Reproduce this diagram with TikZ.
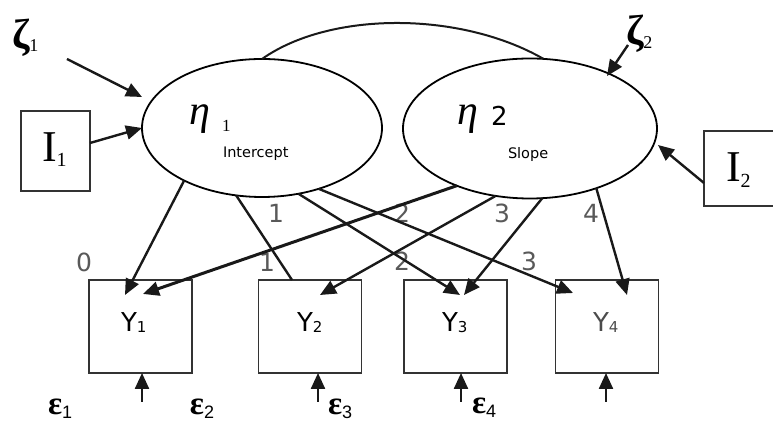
\documentclass[tikz,border=0pt]{standalone}
\usepackage{fontspec}
\setmainfont{Liberation Serif}
\newfontfamily\dvs{DejaVu Sans}
\newfontfamily\lser{Liberation Serif}
\newfontfamily\lsans{Liberation Sans}
\usetikzlibrary{shapes.geometric,arrows.meta}
\tikzset{
  lat/.style={ellipse, draw=black, line width=0.9pt, inner sep=0pt, outer sep=0pt},
  obs/.style={rectangle, draw=black!80, line width=0.8pt, inner sep=0pt, outer sep=0pt,
              minimum width=51.5pt, minimum height=46.5pt},
  ibox/.style={rectangle, draw=black!80, line width=0.8pt, inner sep=0pt, outer sep=0pt},
  conn/.style={draw=black!90, line width=1.2pt, -{Triangle[length=8pt,width=7pt]}},
  lineonly/.style={draw=black!90, line width=1.2pt},
  lbl/.style={inner sep=0pt, outer sep=0pt, anchor=base west},
  num/.style={lbl, font=\dvs\fontsize{12.5}{12.5}\selectfont, text=black!65},
  ylab/.style={lbl, font=\dvs\fontsize{13}{13}\selectfont},
  elab/.style={lbl, font=\lser\bfseries\fontsize{16.5}{16.5}\selectfont},
}
\newcommand\ysub[1]{\raisebox{-0.5pt}{\fontsize{7.5}{7.5}\selectfont #1}}
\newcommand\esub[1]{\raisebox{-2pt}{\lsans\mdseries\fontsize{9}{9}\selectfont #1}}
\begin{document}
\begin{tikzpicture}[x=0.5pt,y=-0.5pt]
\useasboundingbox (0,0) rectangle (773,421);
% latent ellipses
\node[lat, minimum width=120pt, minimum height=69pt] (e1) at (262,128) {};
\node[lat, minimum width=127pt, minimum height=70pt] (e2) at (530,128.5) {};
% covariance arc
\draw[lineonly, line width=1pt] (e1.north) .. controls (330,11) and (460,11) .. (e2.79);
% observed boxes
\node[obs] (y1) at (140.5,326.5) {};
\node[obs] (y2) at (310,326.5) {};
\node[obs] (y3) at (455.5,326.5) {};
\node[obs] (y4) at (607,326.5) {};
% I boxes
\node[ibox, minimum width=34.5pt, minimum height=40pt] (i1) at (55.5,151) {};
\node[ibox, minimum width=37pt, minimum height=37.5pt] (i2) at (741,168.5) {};
% labels
\node[lbl] (z1) at (12,49) {\lser\bfseries\fontsize{21}{21}\selectfont ζ\raisebox{-1.5pt}{\mdseries\fontsize{9}{9}\selectfont 1}};
\node[lbl] (z2) at (626,45) {\lser\bfseries\fontsize{21}{21}\selectfont ζ\raisebox{-1.75pt}{\mdseries\fontsize{9}{9}\selectfont 2}};
\node[lbl] (i1t) at (42,162) {\lser\fontsize{22}{22}\selectfont I\raisebox{-2.5pt}{\fontsize{10}{10}\selectfont 1}};
\node[lbl] (i2t) at (726,182) {\lser\fontsize{22}{22}\selectfont I\raisebox{-3pt}{\fontsize{10}{10}\selectfont 2}};
\node[lbl] (h1) at (189,125) {\lser\itshape\fontsize{21}{21}\selectfont η};
\node[lbl] (h1s) at (222,132) {\lser\fontsize{8.5}{8.5}\selectfont 1};
\node[lbl] (h2) at (457,125) {\lser\itshape\fontsize{21}{21}\selectfont η};
\node[lbl] (h2s) at (491,126) {\dvs\fontsize{13}{13}\selectfont 2};
\node[lbl, font=\dvs\fontsize{7.25}{7.25}\selectfont] (int) at (223,158) {Intercept};
\node[lbl, font=\dvs\fontsize{7.25}{7.25}\selectfont] (slo) at (508,159) {Slope};
\node[ylab] (y1t) at (121,332) {Y\ysub{1}};
\node[ylab] (y2t) at (297,332) {Y\ysub{2}};
\node[ylab] (y3t) at (442,332) {Y\ysub{3}};
\node[ylab, text=black!70] (y4t) at (593,332) {Y\ysub{4}};
% loading numbers
\node[num] (n0) at (76,272) {0};
\node[num] (n1a) at (268,223) {1};
\node[num] (n1b) at (259,272) {1};
\node[num] (n2a) at (394,223) {2};
\node[num] (n2b) at (394,271) {2};
\node[num] (n3a) at (494,223) {3};
\node[num] (n3b) at (521,271) {3};
\node[num] (n4) at (583,223) {4};
% error labels
\node[elab] (ep1) at (48,415) {ε\esub{1}};
\node[elab] (ep2) at (190,415) {ε\esub{2}};
\node[elab] (ep3) at (328,415) {ε\esub{3}};
\node[elab] (ep4) at (472,414) {ε\esub{4}};
% coordinates
\coordinate (t11) at (125,295);
\coordinate (t12) at (292,280);
\coordinate (t13) at (460,295);
\coordinate (t14) at (573,293);
\coordinate (t21) at (143,294);
\coordinate (t22) at (320,295);
\coordinate (t23) at (464,295);
\coordinate (t24) at (627,295);
\coordinate (z1s) at (67,59);
\coordinate (z1e) at (142,97);
\coordinate (z2s) at (628,45);
\coordinate (z2e) at (607,76);
\coordinate (i1s) at (90,143);
\coordinate (i2s) at (704,183);
\coordinate (i2e) at (658,145);
\coordinate (b1) at (142,402);
\coordinate (b2) at (318,402);
\coordinate (b3) at (461,402);
\coordinate (b4) at (606,402);
% loadings
\draw[conn] (e1.214) -- (t11);
\draw[lineonly] (e1.249) -- (t12);
\draw[conn] (e1.299) -- (t13);
\draw[conn] (e1.313) -- (t14);
\draw[conn, line width=1.5pt] (e2.218) -- (t21);
\draw[conn] (e2.243) -- (t22);
\draw[conn] (e2.280) -- (t23);
\draw[conn] (e2.318) -- (t24);
% disturbances and covariates
\draw[conn] (z1s) -- (z1e);
\draw[conn] (z2s) -- (z2e);
\draw[conn] (i1s) -- (e1.west);
\draw[conn] (i2s) -- (i2e);
% residual arrows
\draw[conn] (b1) -- (b1 |- y1.south);
\draw[conn] (b2) -- (b2 |- y2.south);
\draw[conn] (b3) -- (b3 |- y3.south);
\draw[conn] (b4) -- (b4 |- y4.south);
\end{tikzpicture}
\end{document}
